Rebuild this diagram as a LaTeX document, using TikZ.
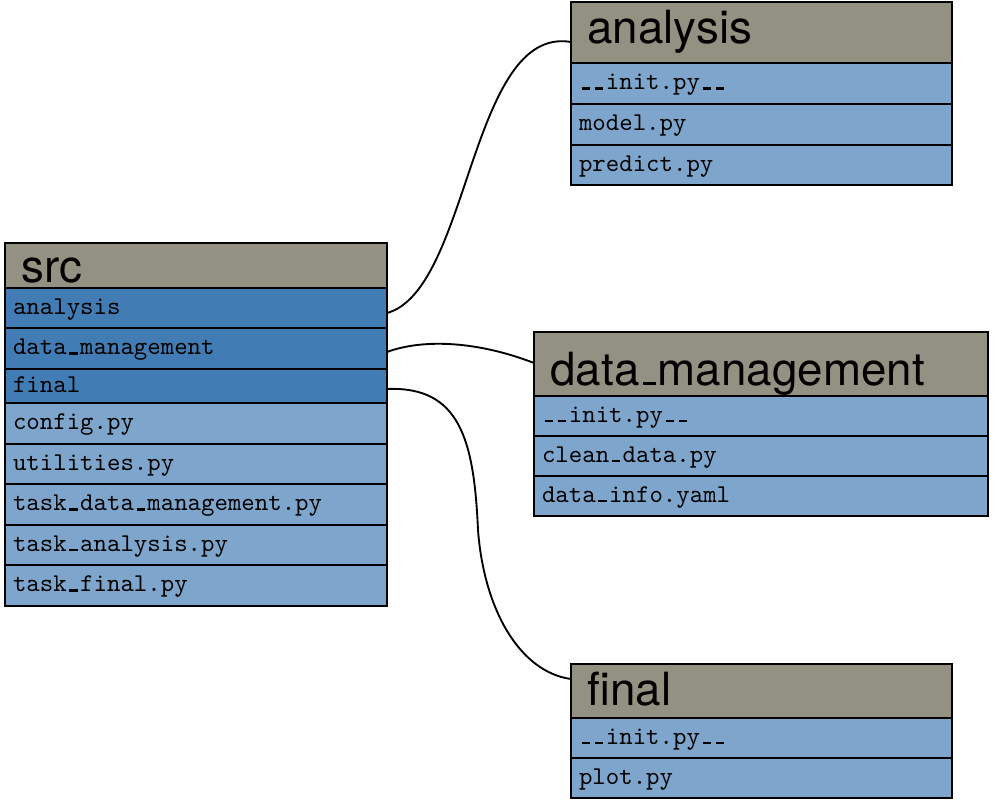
\documentclass[tikz,border=0pt]{standalone}
\usepackage{fontspec}
\newfontfamily\hdrfont{TeX Gyre Heros}
\newfontfamily\rowfont{lmmono10-regular.otf}
\definecolor{hdrgray}{RGB}{147,146,130}
\definecolor{dirblue}{RGB}{65,125,180}
\definecolor{fileblue}{RGB}{126,166,204}
\newcommand\ttus{\makebox[0pt][l]{\kern0.1em\rule{0.33em}{0.08em}}\phantom{a}}
\newcommand\hdus{\kern0.08em\rule{0.29em}{0.06em}\kern0.03em}
\tikzset{
  cell/.style={draw=black, line width=1.25pt, anchor=north west, outer sep=0pt, align=left, inner ysep=0pt},
  hdr/.style={cell, fill=hdrgray, text width=#1, inner xsep=12.4pt, text depth=0pt,
    font=\hdrfont\fontsize{34.3}{36}\selectfont},
  dirrow/.style={cell, fill=dirblue, text width=#1, inner xsep=6pt, text height=9pt, text depth=0pt,
    minimum height=30pt, font=\rowfont\fontsize{19.2}{20}\selectfont},
  filerow/.style={dirrow=#1, fill=fileblue},
  conn/.style={draw=black, line width=1.4pt}
}
\begin{document}
\begin{tikzpicture}[x=0.75pt,y=-0.75pt]
\useasboundingbox (0,0) rectangle (995,800);
% src
\node[hdr=261.7pt, minimum height=33.75pt, text height=24.75pt] (src) at (5,243) {src};
\node[dirrow=274.5pt] (src-an) at (5,288) {analysis};
\node[dirrow=274.5pt, minimum height=30.75pt] (src-dm) at (5,328) {data\ttus management};
\node[dirrow=274.5pt, minimum height=25.5pt] (src-fi) at (5,369) {final};
\node[filerow=274.5pt, minimum height=30.75pt] (src-cf) at (5,403) {config.py};
\node[filerow=274.5pt] (src-ut) at (5,444) {utilities.py};
\node[filerow=274.5pt, minimum height=30.75pt] (src-tdm) at (5,484) {task\ttus data\ttus management.py};
\node[filerow=274.5pt] (src-ta) at (5,525) {task\ttus analysis.py};
\node[filerow=274.5pt, minimum height=30.75pt] (src-tf) at (5,565) {task\ttus final.py};
% analysis
\node[hdr=260.95pt, minimum height=45.75pt, text height=15.75pt] (an) at (571,2) {analysis};
\node[filerow=273.75pt, minimum height=30.75pt] (an-in) at (571,63) {\ttus\ttus init.py\ttus\ttus};
\node[filerow=273.75pt, minimum height=30.75pt] (an-mo) at (571,104) {model.py};
\node[filerow=273.75pt] (an-pr) at (571,145) {predict.py};
% data_management
\node[hdr=315.7pt, minimum height=48pt, text height=31.5pt] (dm) at (534,332) {data\hdus management};
\node[filerow=328.5pt] (dm-in) at (534,396) {\ttus\ttus init.py\ttus\ttus};
\node[filerow=328.5pt] (dm-cl) at (534,436) {clean\ttus data.py};
\node[filerow=328.5pt] (dm-di) at (534,476) {data\ttus info.yaml};
% final
\node[hdr=260.95pt, minimum height=40.5pt, text height=21pt] (fi) at (571,664) {final};
\node[filerow=273.75pt] (fi-in) at (571,718) {\ttus\ttus init.py\ttus\ttus};
\node[filerow=273.75pt] (fi-pl) at (571,758) {plot.py};
% connectors
\draw[conn] ([yshift=-3.75pt]src-an.east) .. controls (470,290) and (470,25) .. ([yshift=-7.1pt]an.west);
\draw[conn] ([yshift=-2.6pt]src-dm.east) .. controls (425,338) and (480,342) .. ([yshift=0.75pt]dm.west);
\draw[conn] ([yshift=-2.25pt]src-fi.east) .. controls (460,386) and (474,440) .. (478,530)
  .. controls (484,610) and (520,672) .. ([yshift=9pt]fi.west);
\end{tikzpicture}
\end{document}
